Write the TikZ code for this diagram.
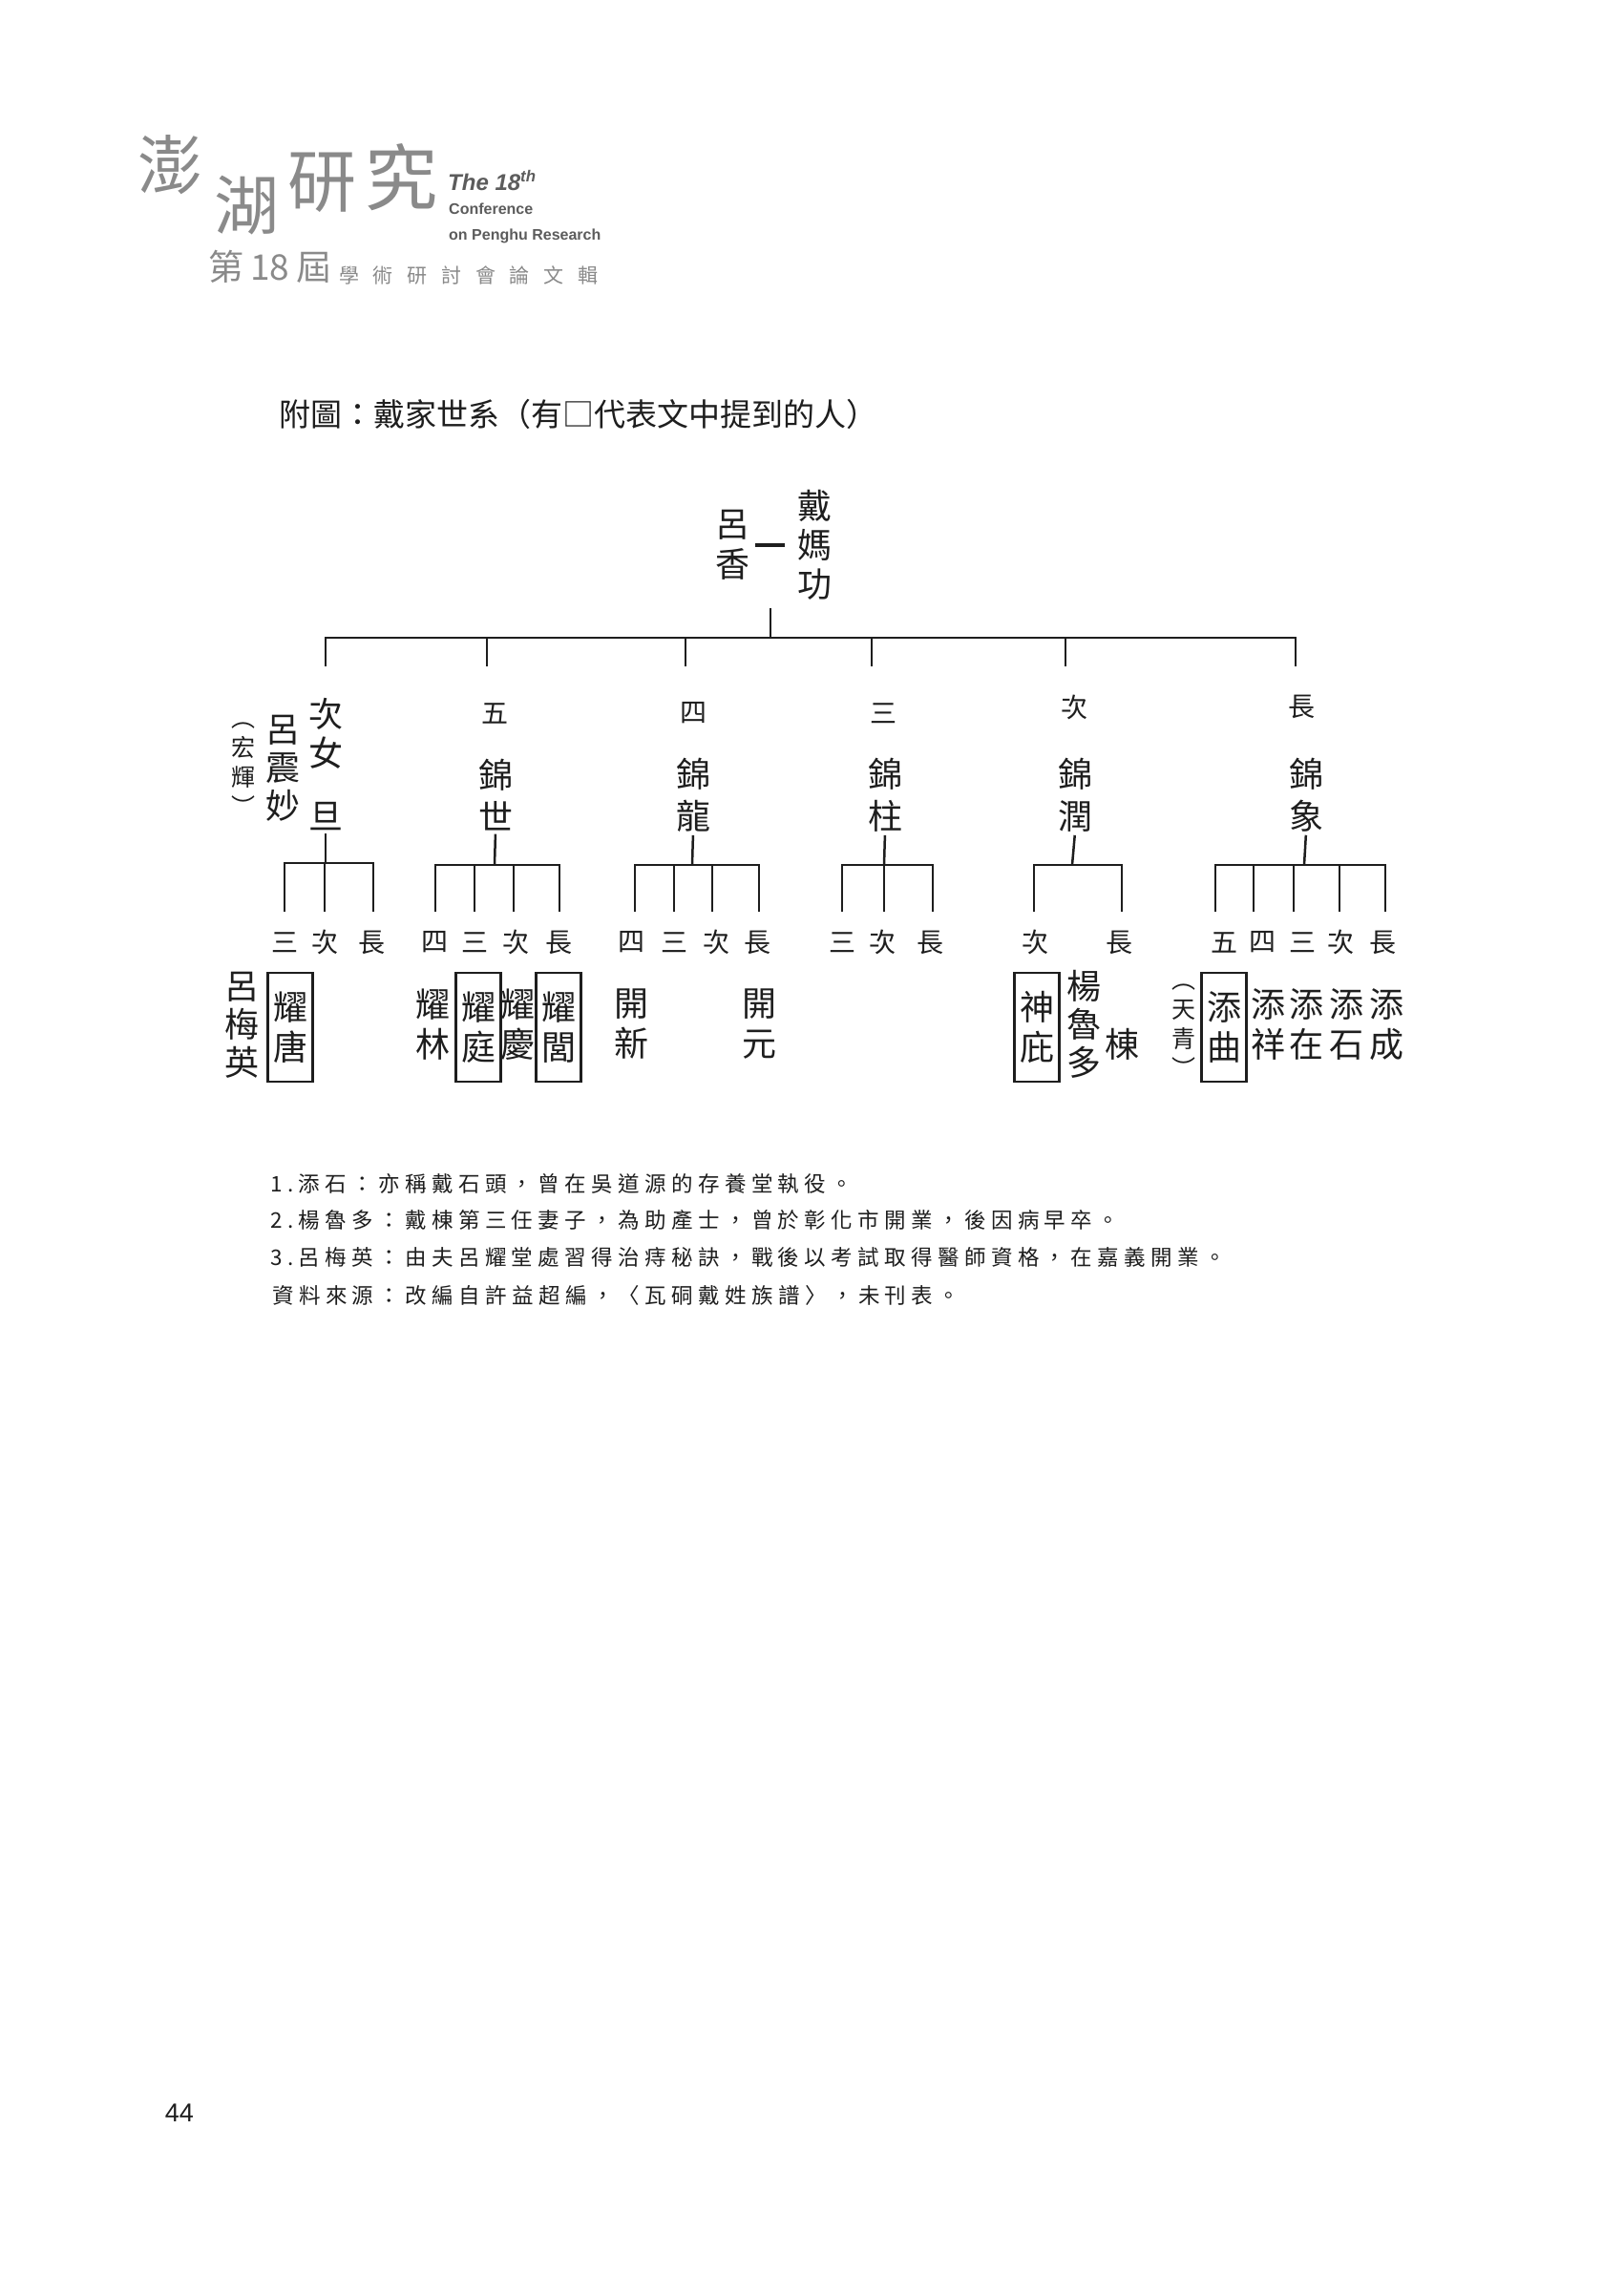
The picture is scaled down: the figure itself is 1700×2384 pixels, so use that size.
\documentclass[tikz,border=0pt]{standalone}
\usepackage{fontspec}
\setmainfont{Noto Sans CJK TC}
\newfontfamily\notefont[LetterSpace=24]{Noto Sans CJK TC}
\newfontfamily\widefont[LetterSpace=70]{Noto Sans CJK TC}
\newfontfamily\latinfont{Liberation Sans}
\definecolor{headgray}{HTML}{8A8A8A}
\definecolor{headdark}{HTML}{5C5C5C}
\definecolor{ink}{HTML}{1E1E1E}

\begin{document}
\begin{tikzpicture}[x=1pt, y=-1pt,
    every node/.style = {inner sep=0pt, align=center, text=ink},
    person/.style = {font=\fontsize{36}{42}\selectfont},
    kin/.style = {font=\fontsize{36}{44}\selectfont},
    marked/.style = {person, draw=ink, line width=2.4pt,
      minimum width=47pt, minimum height=114pt},
    rank/.style = {font=\fontsize{28}{28}\selectfont},
    alias/.style = {font=\fontsize{25}{31}\selectfont},
    branch/.style = {draw=ink, line width=2.5pt},
    couple/.style = {draw=ink, line width=3.5pt},
    note/.style = {anchor=west, font=\notefont\fontsize{22.5}{22.5}\selectfont},
    head/.style = {text=headgray}]
  \useasboundingbox (0,0) rectangle (1700,2384);
  \fill[white] (0,0) rectangle (1700,2384);

  \node[head, font=\fontsize{68}{68}\selectfont] (hpeng) at (178,173) {澎};
  \node[head, font=\fontsize{68}{68}\selectfont] (hhu) at (258,215) {湖};
  \node[head, font=\fontsize{72}{72}\selectfont] (hyan) at (337,191) {研};
  \node[head, font=\fontsize{76}{76}\selectfont] (hjiu) at (420,186) {究};
  \node[anchor=west, text=headdark,
    font=\latinfont\bfseries\itshape\fontsize{24}{24}\selectfont] (hthe) at (469,189) {The 18\textsuperscript{th}};
  \node[anchor=west, text=headdark,
    font=\latinfont\bfseries\fontsize{16}{16}\selectfont] (hconf) at (470,219) {Conference};
  \node[anchor=west, text=headdark,
    font=\latinfont\bfseries\fontsize{16}{16}\selectfont] (hpen) at (470,247) {on Penghu Research};
  \node[head, anchor=west, font=\fontsize{37}{37}\selectfont] (hdi) at (218,279) {第\hspace{7pt}18\hspace{7pt}屆};
  \node[head, anchor=west, font=\widefont\fontsize{21}{21}\selectfont] (hsub) at (355,288) {學術研討會論文輯};

  \node[anchor=west, font=\fontsize{33}{33}\selectfont] (title) at (292,434)
    {附圖：戴家世系（有□代表文中提到的人）};

  \node[person, font=\fontsize{36}{41}\selectfont] (dmg) at (853,571) {戴\\媽\\功};
  \node[person] (lx) at (767,571) {呂\\香};
  \draw[couple, shorten <=6pt, shorten >=13pt] (lx.east) -- (lx.east -| dmg.west);
  \coordinate (cp) at (807,637);
  \coordinate (fk) at (807,668);
  \draw[branch] (cp) -- (fk);
  \foreach \n/\x in {g1/341,g2/510,g3/718,g4/913,g5/1116,g6/1357}
    {\coordinate (\n) at (\x,698);
     \draw[branch] (fk) -| (\n);}

  \node[person, font=\fontsize{36}{41}\selectfont] (cinv) at (341,768) {次\\女};
  \node[person] (dan) at (341,855) {旦};
  \node[person, font=\fontsize{36}{40}\selectfont] (lzm) at (296,805) {呂\\震\\妙};
  \node[alias] (hh) at (255,806) {︵\\宏\\輝\\︶};
  \node[rank] (r2) at (518,747) {五};
  \node[rank] (r3) at (726,747) {四};
  \node[rank] (r4) at (925,747) {三};
  \node[rank] (r5) at (1125,741) {次};
  \node[rank] (r6) at (1363,740) {長};
  \node[kin] (js) at (519,833) {錦\\世};
  \node[kin] (jl) at (726,833) {錦\\龍};
  \node[kin] (jz) at (927,833) {錦\\柱};
  \node[kin] (jr) at (1126,833) {錦\\潤};
  \node[kin] (jx) at (1368,833) {錦\\象};

  \coordinate (fa) at (341,904);
  \coordinate (fb) at (518,906);
  \coordinate (fc) at (725,906);
  \coordinate (fd) at (926,906);
  \coordinate (fe) at (1123,906);
  \coordinate (ff) at (1366,906);
  \draw[branch, shorten <=3pt] (dan.south) -- (fa);
  \draw[branch, shorten <=3pt] (js.south) -- (fb);
  \draw[branch, shorten <=3pt] (jl.south) -- (fc);
  \draw[branch, shorten <=3pt] (jz.south) -- (fd);
  \draw[branch, shorten <=3pt] (jr.south) -- (fe);
  \draw[branch, shorten <=3pt] (jx.south) -- (ff);

  \foreach \x/\lx/\t [count=\i] in {298/298/三,340/340/次,391/389/長}
    {\coordinate (a\i) at (\x,955);
     \draw[branch] (fa) -| (a\i);
     \node[rank] (la\i) at (\lx,987) {\t};}
  \foreach \x/\lx/\t [count=\i] in {456/455/四,497/497/三,538/540/次,586/585/長}
    {\coordinate (b\i) at (\x,955);
     \draw[branch] (fb) -| (b\i);
     \node[rank] (lb\i) at (\lx,987) {\t};}
  \foreach \x/\lx/\t [count=\i] in {665/661/四,706/706/三,746/750/次,795/793/長}
    {\coordinate (c\i) at (\x,955);
     \draw[branch] (fc) -| (c\i);
     \node[rank] (lc\i) at (\lx,987) {\t};}
  \foreach \x/\lx/\t [count=\i] in {882/882/三,926/924/次,977/974/長}
    {\coordinate (d\i) at (\x,955);
     \draw[branch] (fd) -| (d\i);
     \node[rank] (ld\i) at (\lx,987) {\t};}
  \foreach \x/\lx/\t [count=\i] in {1083/1084/次,1175/1172/長}
    {\coordinate (e\i) at (\x,955);
     \draw[branch] (fe) -| (e\i);
     \node[rank] (le\i) at (\lx,987) {\t};}
  \foreach \x/\lx/\t [count=\i] in {1273/1282/五,1313/1322/四,1355/1364/三,1403/1404/次,1451/1448/長}
    {\coordinate (f\i) at (\x,955);
     \draw[branch] (ff) -| (f\i);
     \node[rank] (lf\i) at (\lx,987) {\t};}

  \node[person, font=\fontsize{36}{40}\selectfont] (lmy) at (253,1074) {呂\\梅\\英};
  \node[marked] (ytang) at (304,1076) {耀\\唐};
  \node[person] (ylin) at (453,1073) {耀\\林};
  \node[marked] (yting) at (501,1076) {耀\\庭};
  \node[person] (yqing) at (542,1073) {耀\\慶};
  \node[marked] (ylu) at (585,1076) {耀\\閭};
  \node[person] (kxin) at (661,1073) {開\\新};
  \node[person] (kyuan) at (795,1073) {開\\元};
  \node[marked] (sbi) at (1086,1076) {神\\庇};
  \node[person, font=\fontsize{36}{40}\selectfont] (ylud) at (1135,1073) {楊\\魯\\多};
  \node[person] (dong) at (1175,1094) {棟};
  \node[alias] (tq) at (1240,1080) {︵\\天\\青\\︶};
  \node[marked] (tqu) at (1282,1076) {添\\曲};
  \node[person] (txiang) at (1328,1073) {添\\祥};
  \node[person] (tzai) at (1368,1073) {添\\在};
  \node[person] (tshi) at (1410,1073) {添\\石};
  \node[person] (tcheng) at (1452,1073) {添\\成};

  \node[note] (n1) at (283,1240) {1.添石：亦稱戴石頭，曾在吳道源的存養堂執役。};
  \node[note] (n2) at (283,1278) {2.楊魯多：戴棟第三任妻子，為助產士，曾於彰化市開業，後因病早卒。};
  \node[note] (n3) at (283,1317) {3.呂梅英：由夫呂耀堂處習得治痔秘訣，戰後以考試取得醫師資格，在嘉義開業。};
  \node[note] (n4) at (285,1357) {資料來源：改編自許益超編，〈瓦硐戴姓族譜〉，未刊表。};

  \node[font=\latinfont\fontsize{27}{27}\selectfont] (pg) at (188,2213) {44};
\end{tikzpicture}
\end{document}
